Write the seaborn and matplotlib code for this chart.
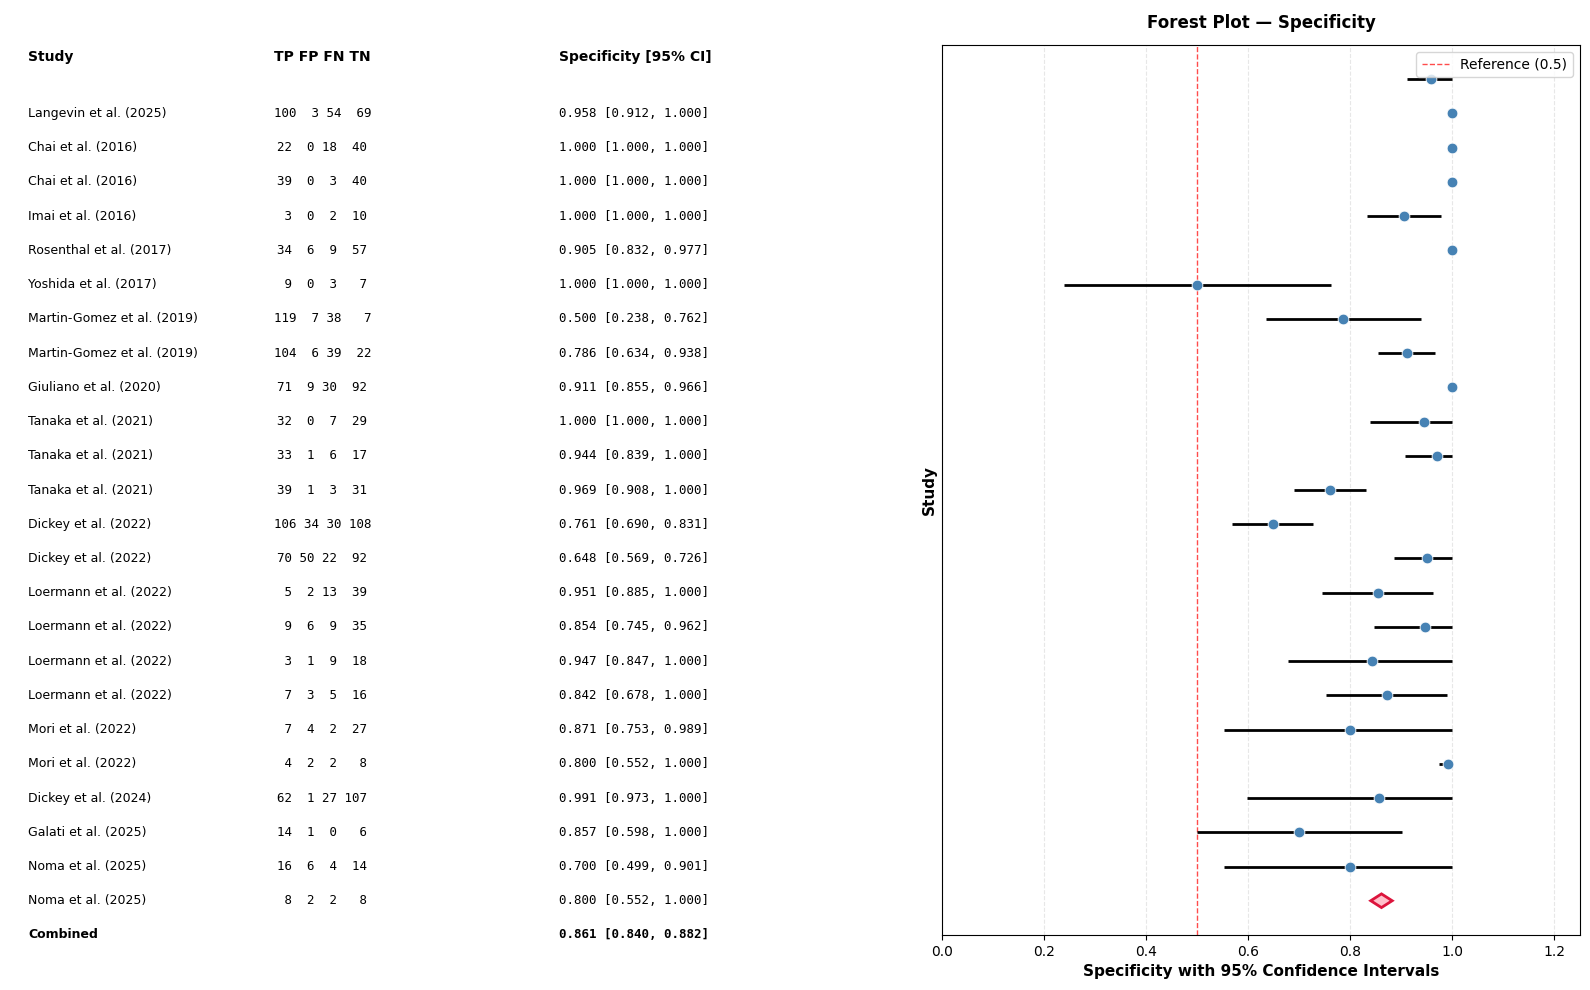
import matplotlib
matplotlib.use("Agg")
import matplotlib.pyplot as plt
import matplotlib.transforms as mtrans
import pandas as pd
import seaborn as sns

# Study data
studies = ["Langevin et al. (2025)", "Chai et al. (2016)", "Chai et al. (2016)", "Imai et al. (2016)",
           "Rosenthal et al. (2017)", "Yoshida et al. (2017)", "Martin-Gomez et al. (2019)",
           "Martin-Gomez et al. (2019)", "Giuliano et al. (2020)", "Tanaka et al. (2021)",
           "Tanaka et al. (2021)", "Tanaka et al. (2021)", "Dickey et al. (2022)", "Dickey et al. (2022)",
           "Loermann et al. (2022)", "Loermann et al. (2022)", "Loermann et al. (2022)",
           "Loermann et al. (2022)", "Mori et al. (2022)", "Mori et al. (2022)", "Dickey et al. (2024)",
           "Galati et al. (2025)", "Noma et al. (2025)", "Noma et al. (2025)"]
tp = [100, 22, 39, 3, 34, 9, 119, 104, 71, 32, 33, 39, 106, 70, 5, 9, 3, 7, 7, 4, 62, 14, 16, 8]
fp = [3, 0, 0, 0, 6, 0, 7, 6, 9, 0, 1, 1, 34, 50, 2, 6, 1, 3, 4, 2, 1, 1, 6, 2]
fn = [54, 18, 3, 2, 9, 3, 38, 39, 30, 7, 6, 3, 30, 22, 13, 9, 9, 5, 2, 2, 27, 0, 4, 2]
tn = [69, 40, 40, 10, 57, 7, 7, 22, 92, 29, 17, 31, 108, 92, 39, 35, 18, 16, 27, 8, 107, 6, 14, 8]
spec = [0.958, 1.000, 1.000, 1.000, 0.905, 1.000, 0.500, 0.786, 0.911, 1.000, 0.944, 0.969,
        0.761, 0.648, 0.951, 0.854, 0.947, 0.842, 0.871, 0.800, 0.991, 0.857, 0.700, 0.800]
ci_low = [0.912, 1.000, 1.000, 1.000, 0.832, 1.000, 0.238, 0.634, 0.855, 1.000, 0.839, 0.908,
          0.690, 0.569, 0.885, 0.745, 0.847, 0.678, 0.753, 0.552, 0.973, 0.598, 0.499, 0.552]
ci_high = [1.000, 1.000, 1.000, 1.000, 0.977, 1.000, 0.762, 0.938, 0.966, 1.000, 1.000, 1.000,
           0.831, 0.726, 1.000, 0.962, 1.000, 1.000, 0.989, 1.000, 1.000, 1.000, 0.901, 1.000]
combined = (0.861, 0.840, 0.882)

n = len(studies)
df = pd.DataFrame({"study": studies, "spec": spec, "lo": ci_low, "hi": ci_high})
df["row"] = range(n)

fig = plt.figure(figsize=(15.9, 9.9), dpi=100)
ax = fig.add_axes([0.5925, 0.0556, 0.4012, 0.8989])

# grid + reference line
ax.grid(axis="x", linestyle="--", alpha=0.3)
ax.set_axisbelow(True)
ax.axvline(0.5, color="red", linestyle="--", linewidth=1, alpha=0.7, label="Reference (0.5)")

# confidence intervals and point estimates
ax.hlines(df["row"], df["lo"], df["hi"], color="black", linewidth=2, zorder=2)
sns.scatterplot(data=df, x="spec", y="row", ax=ax, color="steelblue", s=60, zorder=3, legend=False)

# pooled estimate diamond
est, lo, hi = combined
ax.fill([lo, est, hi, est], [n, n - 0.2, n, n + 0.2], facecolor="pink", edgecolor="crimson",
        linewidth=2, zorder=3)

ax.set_xlim(0, 1.25)
ax.set_ylim(n + 1, -1)
ax.set_yticks([])
ax.set_xlabel("Specificity with 95% Confidence Intervals", fontsize=11, fontweight="bold")
ax.set_ylabel("Study", fontsize=11, fontweight="bold")
ax.set_title("Forest Plot — Specificity", fontsize=12, fontweight="bold", pad=12)
ax.legend(loc="upper right")

# text table on the left, sharing the plot's y coordinates
tr = mtrans.blended_transform_factory(fig.transFigure, ax.transData)
x_study, x_counts, x_spec = 0.0179, 0.2028, 0.3516
ax.text(x_study, -0.66, "Study", transform=tr, fontsize=10, fontweight="bold", va="center")
ax.text(x_counts, -0.66, "TP FP FN TN", transform=tr, fontsize=10, fontweight="bold",
        va="center", ha="center")
ax.text(x_spec, -0.66, "Specificity [95% CI]", transform=tr, fontsize=10, fontweight="bold", va="center")
for i in range(n):
    y = i + 1
    ax.text(x_study, y, studies[i], transform=tr, fontsize=9, va="center")
    ax.text(x_counts, y, f"{tp[i]:2d} {fp[i]:2d} {fn[i]:2d} {tn[i]:3d}", transform=tr,
            fontsize=9, family="DejaVu Sans Mono", va="center", ha="center")
    ax.text(x_spec, y, f"{spec[i]:.3f} [{ci_low[i]:.3f}, {ci_high[i]:.3f}]", transform=tr,
            fontsize=9, family="DejaVu Sans Mono", va="center")
ax.text(x_study, n + 1, "Combined", transform=tr, fontsize=9, fontweight="bold", va="center")
ax.text(x_spec, n + 1, f"{est:.3f} [{lo:.3f}, {hi:.3f}]", transform=tr, fontsize=9,
        fontweight="bold", family="DejaVu Sans Mono", va="center")

fig.savefig("out.png", dpi=100)
